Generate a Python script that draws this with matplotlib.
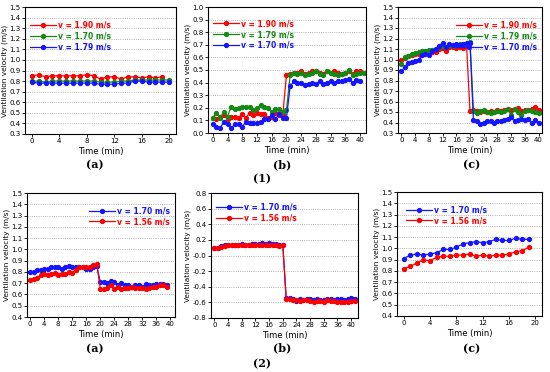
import matplotlib
matplotlib.use("Agg")
import matplotlib.pyplot as plt
import numpy as np

# ---- data ----
# row (1), panel (a): 0-20 min
a1_red = [0.85, 0.86, 0.84, 0.85, 0.85, 0.85, 0.85, 0.85, 0.86, 0.85, 0.82, 0.84, 0.84, 0.82, 0.84,
          0.84, 0.83, 0.84, 0.83, 0.84]
a1_green = [0.80, 0.80, 0.79, 0.80, 0.80, 0.80, 0.80, 0.80, 0.80, 0.80, 0.79, 0.79, 0.79, 0.80, 0.80,
            0.81, 0.81, 0.81, 0.81, 0.81, 0.81]
a1_blue = [0.79, 0.78, 0.78, 0.78, 0.78, 0.78, 0.78, 0.78, 0.78, 0.78, 0.77, 0.77, 0.77, 0.78, 0.78,
           0.80, 0.80, 0.79, 0.79, 0.79, 0.79]

# row (1), panel (b): 0-41 min
b1_red = [0.12, 0.11, 0.13, 0.14, 0.11, 0.13, 0.13, 0.12, 0.15, 0.12, 0.16, 0.14, 0.16, 0.15, 0.15,
          0.12, 0.13, 0.16, 0.14, 0.14,
          0.46, 0.47, 0.48, 0.48, 0.49, 0.47, 0.48, 0.49, 0.49, 0.48, 0.47, 0.49, 0.48, 0.49, 0.48,
          0.47, 0.48, 0.49, 0.47, 0.49, 0.49]
b1_green = [0.12, 0.16, 0.12, 0.17, 0.13, 0.21, 0.19, 0.20, 0.21, 0.21, 0.21, 0.18, 0.20, 0.22, 0.21,
            0.20, 0.17, 0.19, 0.19, 0.17, 0.18,
            0.46, 0.48, 0.47, 0.48, 0.46, 0.47, 0.48, 0.49, 0.47, 0.46, 0.49, 0.48, 0.47, 0.46,
            0.47, 0.48, 0.50, 0.46, 0.47, 0.48, 0.48]
b1_blue = [0.07, 0.05, 0.04, 0.09, 0.07, 0.04, 0.07, 0.07, 0.05, 0.09, 0.08, 0.08, 0.08, 0.09, 0.11,
           0.11, 0.14, 0.11, 0.15, 0.12, 0.12,
           0.37, 0.41, 0.40, 0.40, 0.38, 0.39, 0.40, 0.39, 0.41, 0.39, 0.40, 0.41, 0.40, 0.41,
           0.41, 0.42, 0.43, 0.40, 0.42, 0.41]

# row (1), panel (c): 0-40 min
c1_red = [1.00, 1.01, 1.03, 1.04, 1.05, 1.05, 1.06, 1.07, 1.06, 1.07, 1.07, 1.10, 1.11, 1.08, 1.12,
          1.12, 1.11, 1.12, 1.11, 1.13,
          0.51, 0.52, 0.51, 0.50, 0.51, 0.50, 0.51, 0.50, 0.52, 0.51, 0.52, 0.53, 0.52, 0.53, 0.54,
          0.51, 0.52, 0.52, 0.53, 0.55, 0.52]
c1_green = [0.96, 1.02, 1.03, 1.05, 1.06, 1.07, 1.08, 1.08, 1.09, 1.09, 1.10, 1.12, 1.13, 1.12, 1.14,
            1.13, 1.14, 1.15, 1.14, 1.16, 1.17,
            0.51, 0.49, 0.51, 0.52, 0.50, 0.49, 0.50, 0.51, 0.50, 0.51, 0.53, 0.47, 0.53, 0.50,
            0.47, 0.51, 0.52, 0.51, 0.50, 0.49]
c1_blue = [0.89, 0.93, 0.97, 0.98, 0.99, 1.00, 1.04, 1.05, 1.04, 1.08, 1.10, 1.13, 1.16, 1.12, 1.15,
           1.14, 1.15, 1.14, 1.15, 1.16, 1.16,
           0.42, 0.41, 0.39, 0.40, 0.41, 0.41, 0.40, 0.41, 0.41, 0.42, 0.43, 0.45, 0.41, 0.42,
           0.43, 0.42, 0.43, 0.40, 0.42, 0.40]

# row (2), panel (a): 0-39 min
a2_blue = [0.80, 0.80, 0.82, 0.82, 0.83, 0.83, 0.84, 0.84, 0.84, 0.83, 0.84, 0.85, 0.84, 0.84, 0.84,
           0.84, 0.83, 0.83, 0.84, 0.85,
           0.71, 0.71, 0.70, 0.72, 0.71, 0.68, 0.70, 0.68, 0.68, 0.67, 0.68, 0.68, 0.67, 0.69,
           0.68, 0.68, 0.69, 0.69, 0.69, 0.68]
a2_red = [0.73, 0.74, 0.75, 0.77, 0.78, 0.77, 0.78, 0.79, 0.77, 0.78, 0.78, 0.80, 0.79, 0.82, 0.84,
          0.84, 0.84, 0.84, 0.86, 0.87,
          0.65, 0.65, 0.66, 0.68, 0.65, 0.67, 0.65, 0.66, 0.66, 0.67, 0.66, 0.66, 0.66, 0.65,
          0.66, 0.67, 0.67, 0.68, 0.68, 0.67]

# row (2), panel (b): 0-41 min
b2_blue = [0.10, 0.10, 0.12, 0.13, 0.13, 0.14, 0.14, 0.14, 0.15, 0.14, 0.14, 0.15, 0.15, 0.15, 0.16,
           0.15, 0.16, 0.15, 0.15, 0.14, 0.14,
           -0.55, -0.55, -0.56, -0.58, -0.56, -0.57, -0.56, -0.56, -0.57, -0.56, -0.57, -0.57,
           -0.56, -0.56, -0.57, -0.56, -0.56, -0.57, -0.56, -0.55, -0.56]
b2_red = [0.10, 0.09, 0.11, 0.12, 0.13, 0.13, 0.13, 0.13, 0.14, 0.13, 0.14, 0.14, 0.13, 0.14, 0.14,
          0.14, 0.13, 0.14, 0.13, 0.12, 0.13,
          -0.56, -0.56, -0.57, -0.57, -0.58, -0.57, -0.57, -0.58, -0.59, -0.58, -0.58, -0.59,
          -0.57, -0.58, -0.58, -0.60, -0.60, -0.59, -0.60, -0.58, -0.58]

# row (2), panel (c): 0-19 min
c2_blue = [0.91, 0.94, 0.95, 0.94, 0.95, 0.96, 0.99, 0.99, 1.01, 1.04, 1.05, 1.06, 1.05, 1.06, 1.08,
           1.07, 1.07, 1.09, 1.08, 1.08]
c2_red = [0.82, 0.84, 0.87, 0.90, 0.89, 0.92, 0.93, 0.93, 0.94, 0.94, 0.95, 0.93, 0.94, 0.93, 0.94,
          0.94, 0.95, 0.97, 0.98, 1.01]

RED, GREEN, BLUE = "#ff0000", "#138a13", "#1515ff"

fig = plt.figure(figsize=(5.5, 3.72), dpi=100)
W, H = 550.0, 372.0


def make_axes(l, r, t, b):
    return fig.add_axes([l / W, 1 - b / H, (r - l) / W, (b - t) / H])


def style_axes(ax, ylim, ystep, xlim, xticks, yfmt="%.1f"):
    ax.set_xlim(*xlim)
    ax.set_ylim(*ylim)
    ax.set_xticks(xticks)
    ax.set_yticks(np.arange(ylim[0], ylim[1] + ystep / 2, ystep))
    ax.yaxis.set_major_formatter(matplotlib.ticker.FormatStrFormatter(yfmt))
    ax.yaxis.grid(True, linestyle=":", color="#999999", linewidth=0.6)
    ax.tick_params(labelsize=5, length=2, width=0.6, pad=1.2)
    for s in ax.spines.values():
        s.set_linewidth(0.8)
    ax.set_xlabel("Time (min)", fontsize=6, labelpad=1.5)
    ax.set_ylabel("Ventilation velocity (m/s)", fontsize=5.3, labelpad=1)


def draw(ax, series, loc, anchor):
    for vals, col, lab in series:
        ax.plot(np.arange(len(vals)), vals, "-o", color=col, lw=0.9, ms=2.8,
                mfc=col, mec=col, label=lab)
    ax.legend(loc=loc, bbox_to_anchor=anchor, frameon=False,
              labelcolor="linecolor", handlelength=3.4, handletextpad=0.3,
              labelspacing=0.25, borderaxespad=0.2,
              prop={"weight": "bold", "size": 5.5})


# row (1)
ax = make_axes(25, 176, 7, 134)
draw(ax, [(a1_red, RED, "v = 1.90 m/s"), (a1_green, GREEN, "v = 1.70 m/s"),
          (a1_blue, BLUE, "v = 1.79 m/s")], "upper left", (0.0, 0.93))
style_axes(ax, (0.3, 1.5), 0.1, (-1, 21), range(0, 21, 4))

ax = make_axes(208, 366, 7, 133)
draw(ax, [(b1_red, RED, "v = 1.90 m/s"), (b1_green, GREEN, "v = 1.79 m/s"),
          (b1_blue, BLUE, "v = 1.70 m/s")], "upper left", (0.0, 0.94))
style_axes(ax, (0.0, 1.0), 0.1, (-1.3, 41.6), range(0, 41, 4))

ax = make_axes(398, 542, 7, 133)
draw(ax, [(c1_red, RED, "v = 1.90 m/s"), (c1_green, GREEN, "v = 1.79 m/s"),
          (c1_blue, BLUE, "v = 1.70 m/s")], "upper right", (1.0, 0.93))
style_axes(ax, (0.3, 1.5), 0.1, (-1, 41), range(0, 41, 4))

# row (2)
ax = make_axes(27, 175, 193, 317)
draw(ax, [(a2_blue, BLUE, "v = 1.70 m/s"), (a2_red, RED, "v = 1.56 m/s")],
     "upper right", (1.0, 0.93))
style_axes(ax, (0.4, 1.5), 0.1, (-0.9, 41.3), range(0, 41, 4))

ax = make_axes(211, 358, 193, 318)
draw(ax, [(b2_blue, BLUE, "v = 1.70 m/s"), (b2_red, RED, "v = 1.56 m/s")],
     "upper left", (0.0, 0.96))
style_axes(ax, (-0.8, 0.8), 0.2, (-1, 42), range(0, 41, 4))

ax = make_axes(397, 542, 192, 316)
draw(ax, [(c2_blue, BLUE, "v = 1.70 m/s"), (c2_red, RED, "v = 1.56 m/s")],
     "upper left", (0.03, 0.93))
style_axes(ax, (0.4, 1.5), 0.1, (-1, 21), range(0, 21, 4))

# panel labels
serif = {"family": "DejaVu Serif", "fontsize": 8, "weight": "bold"}
for x, y, s in [(95, 165, "(a)"), (282, 165, "(b)"), (472, 165, "(c)"),
                (95, 349, "(a)"), (282, 348, "(b)"), (472, 349, "(c)")]:
    fig.text(x / W, 1 - y / H, s, ha="center", va="center", **serif)
fig.text(262 / W, 1 - 179 / H, "(1)", ha="center", va="center", **serif)
fig.text(262 / W, 1 - 364 / H, "(2)", ha="center", va="center", **serif)

fig.savefig("out.png", dpi=100)
